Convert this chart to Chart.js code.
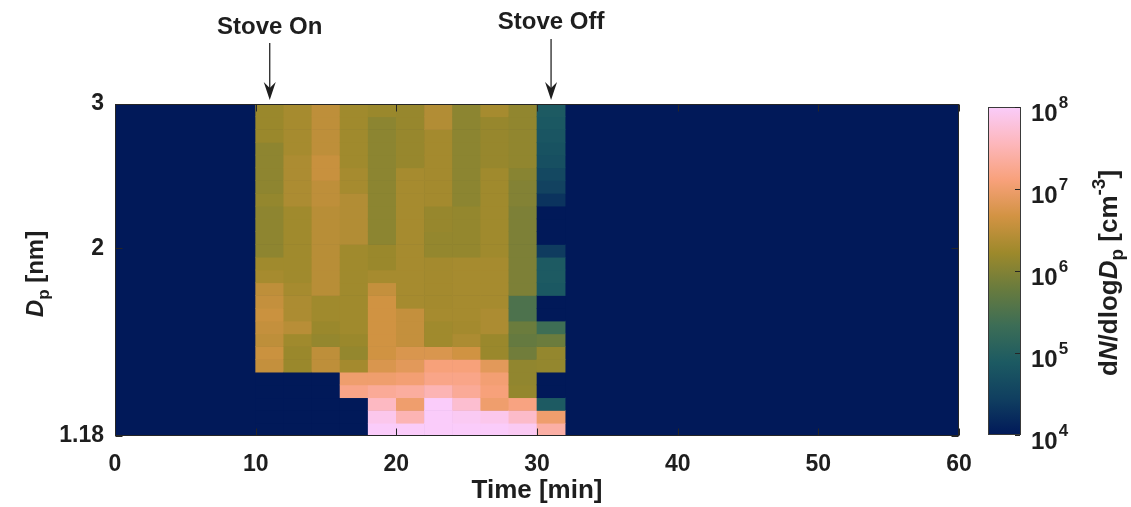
<!DOCTYPE html>
<html>
<head>
<meta charset="utf-8">
<script src="https://cdn.jsdelivr.net/npm/chart.js@4.4.1/dist/chart.umd.min.js"></script>
<style>
  html, body { margin: 0; padding: 0; background: #fff; }
  #wrap { width: 1131px; height: 507px; }
</style>
</head>
<body>
<div id="wrap"><canvas id="psd" width="1131" height="507"></canvas></div>
<script>
// start of each 2-min time bin [min]
const timeStart = [10, 12, 14, 16, 18, 20, 22, 24, 26, 28, 30];
const binMinutes = 2;

// mobility diameter bin edges [nm], log spaced
const sizeEdges = [1.1800, 1.2231, 1.2678, 1.3141, 1.3622, 1.4119, 1.4635, 1.5170, 1.5724,
  1.6299, 1.6895, 1.7512, 1.8152, 1.8815, 1.9503, 2.0215, 2.0954, 2.1720, 2.2513, 2.3336,
  2.4189, 2.5073, 2.5989, 2.6938, 2.7923, 2.8943, 3.0000];

// log10(dN/dlogDp) per time bin, smallest diameter first (4 = at or below 1e4)
const logN = [
  [4, 4, 4, 4, 4, 6.55, 6.6, 6.5, 6.55, 6.6, 6.55, 6.5, 6.3, 6.25, 6.1, 6.1, 6.1, 6.1, 6.15, 6.1, 6.1, 6.1, 6.1, 6.2, 6.2, 6.2],
  [4, 4, 4, 4, 4, 6.2, 6.2, 6.25, 6.45, 6.35, 6.35, 6.3, 6.25, 6.25, 6.25, 6.25, 6.25, 6.25, 6.35, 6.35, 6.35, 6.35, 6.3, 6.3, 6.3, 6.3],
  [4, 4, 4, 4, 4, 6.5, 6.5, 6.15, 6.2, 6.25, 6.25, 6.45, 6.45, 6.45, 6.45, 6.45, 6.45, 6.45, 6.5, 6.5, 6.58, 6.58, 6.5, 6.5, 6.5, 6.5],
  [4, 4, 4, 7.2, 7.0, 6.28, 6.15, 6.2, 6.25, 6.25, 6.25, 6.25, 6.25, 6.25, 6.25, 6.4, 6.4, 6.4, 6.4, 6.3, 6.3, 6.25, 6.25, 6.25, 6.25, 6.25],
  [8.0, 7.9, 7.6, 7.3, 7.0, 6.75, 6.65, 6.65, 6.65, 6.65, 6.65, 6.55, 6.3, 6.2, 6.2, 6.08, 6.08, 6.08, 6.08, 6.08, 6.08, 6.08, 6.08, 6.08, 6.08, 6.2],
  [8.0, 7.5, 7.0, 7.35, 7.05, 6.85, 6.75, 6.55, 6.55, 6.55, 6.3, 6.3, 6.3, 6.3, 6.3, 6.3, 6.3, 6.3, 6.3, 6.3, 6.3, 6.17, 6.17, 6.17, 6.17, 6.17],
  [8.0, 8.0, 8.0, 7.5, 7.2, 7.1, 6.75, 6.25, 6.25, 6.3, 6.28, 6.28, 6.28, 6.28, 6.15, 6.15, 6.17, 6.17, 6.28, 6.28, 6.28, 6.28, 6.28, 6.28, 6.4, 6.4],
  [8.0, 7.95, 7.7, 7.3, 7.2, 7.1, 6.65, 6.35, 6.28, 6.3, 6.3, 6.3, 6.3, 6.3, 6.15, 6.15, 6.15, 6.15, 6.08, 6.08, 6.08, 6.08, 6.08, 6.08, 6.08, 6.08],
  [8.0, 7.9, 7.0, 7.1, 7.05, 6.85, 6.2, 6.2, 6.35, 6.35, 6.3, 6.3, 6.3, 6.3, 6.25, 6.25, 6.25, 6.25, 6.25, 6.25, 6.25, 6.17, 6.17, 6.17, 6.17, 6.3],
  [7.95, 7.65, 7.15, 6.15, 6.12, 6.12, 5.85, 5.75, 5.8, 5.5, 5.5, 5.95, 5.95, 5.95, 5.95, 5.95, 5.95, 5.95, 6.0, 6.0, 6.05, 6.12, 6.12, 6.12, 6.12, 6.12],
  [7.4, 7.0, 4.9, 4, 4, 6.15, 6.15, 5.8, 5.35, 4, 4, 4.85, 4.9, 4.9, 4.4, 4, 4, 4, 4.3, 4.5, 4.6, 4.7, 4.75, 4.8, 4.85, 4.9]
];

const xTicks = [0, 10, 20, 30, 40, 50, 60];
const yTicks = [1.18, 2, 3];
const cbExponents = [4, 5, 6, 7, 8];
const eventLabels = ['Stove On', 'Stove Off'];
const eventTimes = [11, 31];

const FONT = '"Liberation Sans", Arial, Helvetica, sans-serif';
const INK = '#1e1e1e';

// batlow colour map, 10 evenly spaced samples
const batlowStops = ['#011959', '#103F60', '#1C5A62', '#3C6D56', '#687B3E',
  '#9D892B', '#D29343', '#F8A17B', '#FDB7BC', '#FACCFA'];

function hexRgb(h) {
  return [1, 3, 5].map(i => parseInt(h.slice(i, i + 2), 16));
}
function batlow(t) {
  t = Math.min(1, Math.max(0, t));
  const s = t * (batlowStops.length - 1);
  const i = Math.min(Math.floor(s), batlowStops.length - 2);
  const f = s - i;
  const a = hexRgb(batlowStops[i]), b = hexRgb(batlowStops[i + 1]);
  const c = a.map((v, k) => Math.round(v + (b[k] - v) * f));
  return `rgb(${c[0]},${c[1]},${c[2]})`;
}
const logMin = 4, logMax = 8;
const toColor = v => batlow((v - logMin) / (logMax - logMin));

// one floating bar per cell
const cells = [];
const cellColors = [];
timeStart.forEach((t0, c) => {
  logN[c].forEach((v, r) => {
    cells.push({ x: t0 + binMinutes / 2, y: [sizeEdges[r], sizeEdges[r + 1]] });
    cellColors.push(toColor(v));
  });
});

function font(size, italic) {
  return `${italic ? 'italic ' : ''}bold ${size}px ${FONT}`;
}

// text made of runs with their own size / style / baseline shift
function drawRuns(ctx, runs, x, y, angle, base) {
  ctx.save();
  ctx.translate(x, y);
  ctx.rotate(angle);
  ctx.textAlign = 'left';
  ctx.textBaseline = 'alphabetic';
  let total = 0;
  runs.forEach(r => {
    ctx.font = font(r.size || base, r.italic);
    r.w = ctx.measureText(r.t).width;
    total += r.w;
  });
  let cx = -total / 2;
  runs.forEach(r => {
    ctx.font = font(r.size || base, r.italic);
    ctx.fillText(r.t, cx, r.dy || 0);
    cx += r.w;
  });
  ctx.restore();
}

const decor = {
  id: 'psdDecor',
  beforeDatasetsDraw(chart) {
    const { ctx, chartArea: a } = chart;
    ctx.save();
    ctx.fillStyle = toColor(logMin);
    ctx.fillRect(a.left, a.top, a.right - a.left, a.bottom - a.top);
    ctx.restore();
  },
  afterDraw(chart) {
    const { ctx, chartArea: a } = chart;
    const xs = chart.scales.x, ys = chart.scales.y;
    ctx.save();
    ctx.fillStyle = INK;
    ctx.strokeStyle = '#262626';
    ctx.lineWidth = 1;

    // axes box with inward ticks
    const L = Math.round(a.left) + 0.5, R = Math.round(a.right) - 0.5;
    const T = Math.round(a.top) + 0.5, B = Math.round(a.bottom) - 0.5;
    ctx.strokeRect(L, T, R - L, B - T);
    const tl = 7;
    ctx.beginPath();
    xTicks.forEach(v => {
      const px = Math.round(xs.getPixelForValue(v)) + 0.5;
      ctx.moveTo(px, B); ctx.lineTo(px, B - tl);
      ctx.moveTo(px, T); ctx.lineTo(px, T + tl);
    });
    yTicks.forEach(v => {
      const py = Math.round(ys.getPixelForValue(v)) + 0.5;
      ctx.moveTo(L, py); ctx.lineTo(L + tl, py);
      ctx.moveTo(R, py); ctx.lineTo(R - tl, py);
    });
    ctx.stroke();

    // y axis title: D_p [nm]
    drawRuns(ctx, [
      { t: 'D', italic: true },
      { t: 'p', size: 17, dy: 6 },
      { t: ' [nm]' }
    ], 43, (a.top + a.bottom) / 2 + 4, -Math.PI / 2, 24);

    // event markers above the axes
    eventLabels.forEach((lab, i) => {
      const px = xs.getPixelForValue(eventTimes[i]);
      const textY = i === 0 ? 27 : 22;
      const top = i === 0 ? 43 : 39;
      const tip = a.top - 4;
      ctx.font = font(24);
      ctx.textAlign = 'center';
      ctx.textBaseline = 'middle';
      ctx.fillText(lab, px, textY);
      ctx.beginPath();
      ctx.moveTo(px, top);
      ctx.lineTo(px, tip - 10);
      ctx.lineWidth = 1.3;
      ctx.stroke();
      ctx.beginPath();
      ctx.moveTo(px, tip);
      ctx.lineTo(px - 6, tip - 18);
      ctx.lineTo(px, tip - 12);
      ctx.lineTo(px + 6, tip - 18);
      ctx.closePath();
      ctx.fill();
    });

    // colour bar
    const cbL = 988, cbR = 1021, cbT = a.top + 3, cbB = a.bottom - 1;
    const g = ctx.createLinearGradient(0, cbB, 0, cbT);
    batlowStops.forEach((c, i) => g.addColorStop(i / (batlowStops.length - 1), c));
    ctx.fillStyle = g;
    ctx.fillRect(cbL, cbT, cbR - cbL, cbB - cbT);
    ctx.lineWidth = 1;
    ctx.strokeStyle = '#3a3a3a';
    ctx.strokeRect(cbL + 0.5, cbT + 0.5, cbR - cbL - 1, cbB - cbT - 1);
    ctx.fillStyle = INK;
    cbExponents.forEach(e => {
      const py = cbB - (e - logMin) / (logMax - logMin) * (cbB - cbT);
      ctx.beginPath();
      ctx.moveTo(cbR - 1, Math.round(py) + 0.5);
      ctx.lineTo(cbR - 6, Math.round(py) + 0.5);
      ctx.strokeStyle = '#262626';
      ctx.stroke();
      ctx.textAlign = 'left';
      ctx.textBaseline = 'alphabetic';
      ctx.font = font(24);
      ctx.fillText('10', 1031, py + 14);
      const w = ctx.measureText('10').width;
      ctx.font = font(17);
      ctx.fillText(String(e), 1031 + w + 1, py + 1);
    });

    // colour bar title: dN/dlogD_p [cm^-3]
    drawRuns(ctx, [
      { t: 'd' },
      { t: 'N', italic: true },
      { t: '/dlog' },
      { t: 'D', italic: true },
      { t: 'p', size: 19, dy: 6 },
      { t: ' [cm' },
      { t: '-3', size: 19, dy: -12 },
      { t: ']' }
    ], 1117, (a.top + a.bottom) / 2 + 3, -Math.PI / 2, 26);

    ctx.restore();
  }
};

const ctx = document.getElementById('psd');
new Chart(ctx, {
  type: 'bar',
  data: {
    datasets: [{
      data: cells,
      backgroundColor: cellColors,
      borderWidth: 0,
      barPercentage: 1,
      categoryPercentage: 1,
      grouped: false
    }]
  },
  options: {
    responsive: false,
    maintainAspectRatio: false,
    devicePixelRatio: 1,
    animation: false,
    events: [],
    layout: { padding: { left: 0, right: 172, top: 104, bottom: 0 } },
    plugins: {
      legend: { display: false },
      tooltip: { enabled: false }
    },
    scales: {
      x: {
        type: 'linear',
        min: 0,
        max: 60,
        offset: false,
        grid: { display: false, drawTicks: false },
        border: { display: false },
        afterBuildTicks: s => { s.ticks = xTicks.map(v => ({ value: v })); },
        ticks: { color: INK, font: { family: FONT, size: 23, weight: 'bold' }, padding: 15, autoSkip: false, maxRotation: 0 },
        title: {
          display: true, text: 'Time [min]', color: INK,
          font: { family: FONT, size: 26, weight: 'bold' }, padding: { top: 0, bottom: 1 }
        },
        afterFit: s => { s.height = 71; }
      },
      y: {
        type: 'logarithmic',
        min: 1.18,
        max: 3,
        grid: { display: false, drawTicks: false },
        border: { display: false },
        afterBuildTicks: s => { s.ticks = yTicks.map(v => ({ value: v })); },
        ticks: {
          color: INK, font: { family: FONT, size: 23, weight: 'bold' }, padding: 11, autoSkip: false,
          callback: v => String(v)
        },
        afterFit: s => { s.width = 115; }
      }
    }
  },
  plugins: [decor]
});
</script>
</body>
</html>
